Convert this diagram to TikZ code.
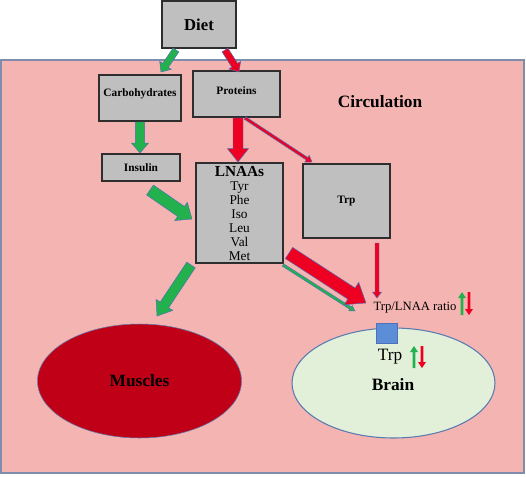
\documentclass[tikz,border=0pt]{standalone}
\usepackage{fontspec}
\setmainfont{Liberation Serif}
\usetikzlibrary{calc, shapes.geometric}

\definecolor{bloodpink}{HTML}{F4B5B2}
\definecolor{boxgray}{HTML}{BFBFBF}
\definecolor{boxedge}{HTML}{2E2E2E}
\definecolor{framegray}{HTML}{7F8CAB}
\definecolor{arrowgreen}{HTML}{22B14C}
\definecolor{arrowred}{HTML}{EE0022}
\definecolor{arrowedge}{HTML}{4F6FB8}
\definecolor{muscred}{HTML}{BF0016}
\definecolor{brainfill}{HTML}{E2F0D9}
\definecolor{brainedge}{HTML}{5A7BB0}
\definecolor{transblue}{HTML}{5B8ED6}

% block arrow: [outline] tail, tip, half shaft, half head, head length, fill
\newcommand{\blockarrow}[7][blockedge]{%
  \coordinate (ba) at ($(#3)!#6!(#2)$);
  \draw[#1, fill=#7] ($(#2)!#4!90:(#3)$) -- ($(ba)!#4!90:(#3)$) -- ($(ba)!#5!90:(#3)$)
    -- (#3) -- ($(ba)!#5!-90:(#3)$) -- ($(ba)!#4!-90:(#3)$) -- ($(#2)!#4!-90:(#3)$) -- cycle;
}

\begin{document}
\begin{tikzpicture}[x=0.75pt, y=-0.75pt,
  box/.style={draw=boxedge, fill=boxgray, line width=0.8pt, inner sep=0pt, align=center},
  smallbold/.style={font=\fontsize{8.5}{10}\selectfont\bfseries},
  organ/.style={ellipse, inner sep=0pt, font=\fontsize{13}{15}\selectfont\bfseries},
  blockedge/.style={draw=arrowedge, line width=0.35pt},
  bare/.style={draw=none}]
  \useasboundingbox (0,0) rectangle (526,476);

  % Circulation
  \draw[framegray, line width=1.1pt, fill=bloodpink] (1,60) rectangle (524,473);
  \node[font=\fontsize{13}{15}\selectfont\bfseries] (circ) at (380,102) {Circulation};

  % Boxes
  \node[box, minimum width=55.5pt, minimum height=35.25pt, font=\fontsize{12.5}{14}\selectfont\bfseries] (diet) at (199,24.5) {Diet};
  \node[box, smallbold, minimum width=61.5pt, minimum height=34.5pt, text depth=7.5pt] (carbs) at (140,98) {Carbohydrates};
  \node[box, smallbold, minimum width=65.25pt, minimum height=34.5pt, text depth=5pt] (prot) at (236.5,94) {Proteins};
  \node[box, smallbold, minimum width=58.5pt, minimum height=20.25pt] (insulin) at (141,167.5) {Insulin};
  \node[box, minimum width=65.25pt, minimum height=75pt, font=\fontsize{10}{10.5}\selectfont] (lnaa) at (239.5,213)
    {{\fontsize{11.5}{11}\selectfont\bfseries LNAAs}\\Tyr\\Phe\\Iso\\Leu\\Val\\Met};
  \node[box, smallbold, minimum width=65.25pt, minimum height=55.5pt] (trpbox) at (346.5,201) {Trp};

  % Organs
  \node[organ, draw=brainedge, fill=muscred, minimum width=153pt, minimum height=85.5pt] (muscles) at (139.5,381) {Muscles};
  \node[organ, draw=brainedge, line width=0.8pt, fill=brainfill, minimum width=152.25pt, minimum height=82.5pt] (brain) at (393.5,383) {};
  \node[font=\fontsize{13}{15}\selectfont\bfseries] (brainlbl) at (393,385) {Brain};
  \node[draw=arrowedge, fill=transblue, minimum width=15.75pt, minimum height=15pt, inner sep=0pt] (carrier) at (386.5,333) {};

  % Ratio and Trp labels
  \node[font=\fontsize{9.5}{11}\selectfont] (ratio) at (415,308) {Trp/LNAA ratio};
  \node[font=\fontsize{13}{15}\selectfont] (braintrp) at (390,357) {Trp};

  % Arrow end points
  \coordinate (dcA) at (176,50);  \coordinate (dcB) at (161,72);
  \coordinate (dpA) at (225,50);  \coordinate (dpB) at (239,72);
  \coordinate (ciA) at (140,122); \coordinate (ciB) at (140,153);
  \coordinate (plA) at (238,118); \coordinate (plB) at (238,162);
  \coordinate (ptA) at (245,118); \coordinate (ptB) at (312,162);
  \coordinate (ilA) at (150,190); \coordinate (ilB) at (192,219);
  \coordinate (lmA) at (191,265); \coordinate (lmB) at (157,316);
  \coordinate (lrA) at (289,253); \coordinate (lrB) at (366,303);
  \coordinate (lgA) at (283,265); \coordinate (lgB) at (355,311);
  \coordinate (trA) at (377,243); \coordinate (trB) at (377,298);
  \coordinate (ruA) at (462,315); \coordinate (ruB) at (462,292);
  \coordinate (rdA) at (469,292); \coordinate (rdB) at (469,315);
  \coordinate (buA) at (414,368); \coordinate (buB) at (414,346);
  \coordinate (bdA) at (422,346); \coordinate (bdB) at (422,368);

  % Green pathway
  \blockarrow{dcA}{dcB}{2.6pt}{5.25pt}{6pt}{arrowgreen}
  \blockarrow{ciA}{ciB}{3.4pt}{6.4pt}{7.5pt}{arrowgreen}
  \blockarrow{ilA}{ilB}{4.5pt}{8.3pt}{10pt}{arrowgreen}
  \blockarrow{lmA}{lmB}{3.8pt}{7.5pt}{10pt}{arrowgreen}
  \blockarrow{lgA}{lgB}{1pt}{2.3pt}{4pt}{arrowgreen}

  % Red pathway
  \blockarrow{dpA}{dpB}{2.6pt}{5.25pt}{6pt}{arrowred}
  \blockarrow{plA}{plB}{3.75pt}{7.9pt}{10pt}{arrowred}
  \blockarrow{ptA}{ptB}{1.1pt}{3pt}{4.5pt}{arrowred}
  \blockarrow{lrA}{lrB}{5pt}{10pt}{13pt}{arrowred}
  \blockarrow{trA}{trB}{1.5pt}{3.4pt}{4.5pt}{arrowred}

  % Up / down markers
  \blockarrow[bare]{ruA}{ruB}{1.1pt}{3pt}{4.5pt}{arrowgreen}
  \blockarrow[bare]{rdA}{rdB}{1.1pt}{3pt}{4.5pt}{arrowred}
  \blockarrow[bare]{buA}{buB}{1.1pt}{3pt}{4.5pt}{arrowgreen}
  \blockarrow[bare]{bdA}{bdB}{1.1pt}{3pt}{4.5pt}{arrowred}

\end{tikzpicture}
\end{document}
